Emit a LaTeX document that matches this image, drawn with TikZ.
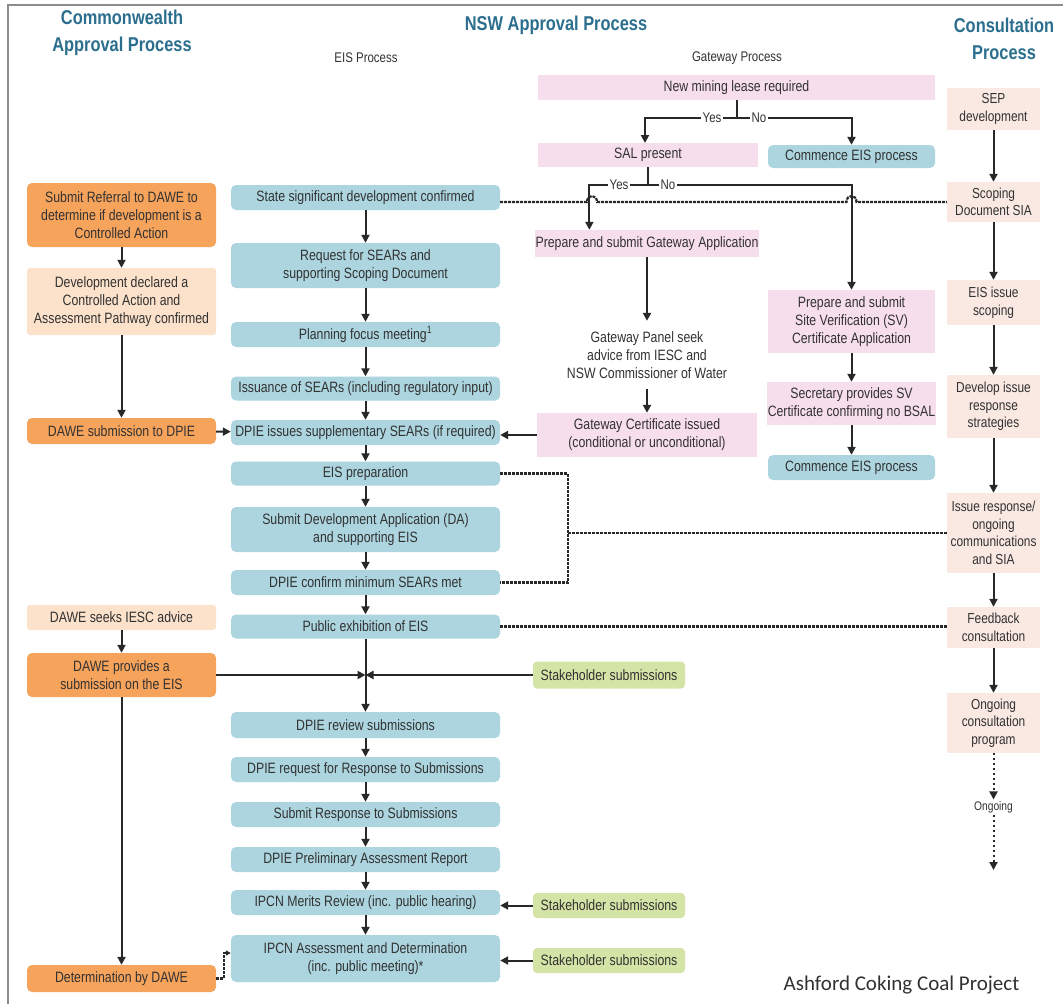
\documentclass[tikz,border=0pt]{standalone}
\usepackage{fontspec}
\setmainfont{Liberation Sans}
\newfontfamily\boxfnt[FakeStretch=0.82]{Liberation Sans}
\newfontfamily\calfnt{Carlito}
\usetikzlibrary{arrows.meta}
\definecolor{cblue}{RGB}{172,213,223}
\definecolor{corange}{RGB}{246,163,92}
\definecolor{cpeach}{RGB}{252,225,203}
\definecolor{cpink}{RGB}{247,222,236}
\definecolor{ccons}{RGB}{250,232,226}
\definecolor{cgreen}{RGB}{212,228,166}
\definecolor{chead}{RGB}{43,110,142}
\definecolor{ctxt}{RGB}{50,50,50}
\definecolor{cline}{RGB}{40,40,40}
\definecolor{cframe}{RGB}{140,140,140}
\tikzset{
  bx/.style={inner sep=1pt, align=center, text=ctxt, font=\boxfnt\fontsize{15}{18}\selectfont},
  bluebx/.style={bx, fill=cblue, rounded corners=5pt},
  orgbx/.style={bx, fill=corange, rounded corners=5pt},
  pchbx/.style={bx, fill=cpeach, rounded corners=3pt},
  pinkbx/.style={bx, fill=cpink},
  conbx/.style={bx, fill=ccons, font=\boxfnt\fontsize{14.5}{17.5}\selectfont},
  grnbx/.style={bx, fill=cgreen, rounded corners=4pt},
  hdr/.style={align=center, text=chead, font=\boxfnt\bfseries\fontsize{20}{27}\selectfont},
  sub/.style={text=ctxt, font=\boxfnt\fontsize{14}{16}\selectfont},
  lbl/.style={fill=white, inner sep=1.5pt, text=ctxt, font=\boxfnt\fontsize{14}{15}\selectfont},
  ln/.style={draw=cline, line width=2pt},
  arr/.style={ln, -{Triangle[length=8pt,width=8pt]}},
  dsh/.style={draw=cline, line width=2.2pt, dash pattern=on 3pt off 1pt},
  dotarr/.style={draw=cline, line width=2pt, dash pattern=on 2pt off 3pt, -{Triangle[length=8pt,width=8pt]}}
}
\begin{document}
\begin{tikzpicture}[x=1pt,y=-1pt]
\useasboundingbox (0,0) rectangle (1063,1004);
\fill[white] (0,0) rectangle (1063,1004);
% frame
\draw[cframe, line width=1.5pt] (8,1004) -- (8,5) -- (1063,5);

% headers
\node[hdr] (hcw) at (122,33) {Commonwealth\\Approval Process};
\node[hdr] (hnsw) at (556,25) {NSW Approval Process};
\node[hdr] (hcon) at (1004,39) {Consultation\\Process};
\node[sub] (heis) at (366,58) {EIS Process};
\node[sub] (hgw) at (737,58) {Gateway Process};

% Commonwealth column
\node[orgbx, minimum width=189pt, minimum height=64pt] (ref) at (121.5,215) {Submit Referral to DAWE to\\determine if development is a\\Controlled Action};
\node[pchbx, minimum width=189pt, minimum height=67pt] (decl) at (121.5,301.5) {Development declared a\\Controlled Action and\\Assessment Pathway confirmed};
\node[orgbx, minimum width=189pt, minimum height=26pt] (dsub) at (121.5,431) {DAWE submission to DPIE};
\node[pchbx, minimum width=189pt, minimum height=25pt] (seek) at (121.5,617.5) {DAWE seeks IESC advice};
\node[orgbx, minimum width=189pt, minimum height=44pt] (prov) at (121.5,675) {DAWE provides a\\submission on the EIS};
\node[orgbx, minimum width=189pt, minimum height=27pt] (det) at (121.5,978.5) {Determination by DAWE};

% EIS column
\node[bluebx, minimum width=269pt, minimum height=25pt] (ssd) at (365.5,197.5) {State significant development confirmed};
\node[bluebx, minimum width=269pt, minimum height=45pt] (req) at (365.5,265.5) {Request for SEARs and\\supporting Scoping Document};
\node[bluebx, minimum width=269pt, minimum height=25pt] (pfm) at (365.5,334.5) {Planning focus meeting\textsuperscript{1}};
\node[bluebx, minimum width=269pt, minimum height=24pt] (iss) at (365.5,388.5) {Issuance of SEARs (including regulatory input)};
\node[bluebx, minimum width=269pt, minimum height=25pt] (sup) at (365.5,432.5) {DPIE issues supplementary SEARs (if required)};
\node[bluebx, minimum width=269pt, minimum height=24pt] (prep) at (365.5,473.5) {EIS preparation};
\node[bluebx, minimum width=269pt, minimum height=45pt] (da) at (365.5,529.5) {Submit Development Application (DA)\\and supporting EIS};
\node[bluebx, minimum width=269pt, minimum height=25pt] (conf) at (365.5,582.5) {DPIE confirm minimum SEARs met};
\node[bluebx, minimum width=269pt, minimum height=24pt] (pub) at (365.5,626.5) {Public exhibition of EIS};
\node[bluebx, minimum width=269pt, minimum height=26pt] (rev) at (365.5,725) {DPIE review submissions};
\node[bluebx, minimum width=269pt, minimum height=25pt] (rfr) at (365.5,769.5) {DPIE request for Response to Submissions};
\node[bluebx, minimum width=269pt, minimum height=25pt] (srs) at (365.5,814.5) {Submit Response to Submissions};
\node[bluebx, minimum width=269pt, minimum height=25pt] (par) at (365.5,859.5) {DPIE Preliminary Assessment Report};
\node[bluebx, minimum width=269pt, minimum height=25pt] (mer) at (365.5,902.5) {IPCN Merits Review (inc. public hearing)};
\node[bluebx, minimum width=269pt, minimum height=47pt] (ipcn) at (365.5,958.5) {IPCN Assessment and Determination\\(inc. public meeting)*};

% Gateway column
\node[pinkbx, minimum width=397pt, minimum height=25pt] (nml) at (736.5,87.5) {New mining lease required};
\node[pinkbx, minimum width=220pt, minimum height=24pt] (sal) at (648,155) {SAL present};
\node[bluebx, minimum width=167pt, minimum height=23pt] (ceisa) at (851.5,156.5) {Commence EIS process};
\node[pinkbx, minimum width=220pt, minimum height=27pt] (pga) at (647,243.5) {Prepare and submit Gateway Application};
\node[bx, minimum width=200pt, minimum height=68pt] (gp) at (647,355) {Gateway Panel seek\\advice from IESC and\\NSW Commissioner of Water};
\node[pinkbx, minimum width=220pt, minimum height=44pt] (gci) at (647,435) {Gateway Certificate issued\\(conditional or unconditional)};
\node[pinkbx, minimum width=167pt, minimum height=63pt] (psv) at (851.5,321.5) {Prepare and submit\\Site Verification (SV)\\Certificate Application};
\node[pinkbx, minimum width=167pt, minimum height=43pt] (sec) at (851.5,403.5) {Secretary provides SV\\Certificate confirming no BSAL};
\node[bluebx, minimum width=167pt, minimum height=25pt] (ceisb) at (851.5,467.5) {Commence EIS process};

% Consultation column
\node[conbx, minimum width=93pt, minimum height=42pt] (sep) at (993.5,109) {SEP\\development};
\node[conbx, minimum width=93pt, minimum height=40pt] (sds) at (993.5,202) {Scoping\\Document SIA};
\node[conbx, minimum width=93pt, minimum height=45pt] (eisi) at (993.5,302.5) {EIS issue\\scoping};
\node[conbx, minimum width=93pt, minimum height=63pt] (dev) at (993.5,406.5) {Develop issue\\response\\strategies};
\node[conbx, minimum width=93pt, minimum height=80pt] (ir) at (993.5,533) {Issue response/\\ongoing\\communications\\and SIA};
\node[conbx, minimum width=93pt, minimum height=41pt] (fb) at (993.5,627.5) {Feedback\\consultation};
\node[conbx, minimum width=93pt, minimum height=60pt] (ocp) at (993.5,723) {Ongoing\\consultation\\program};
\node[lbl, font=\boxfnt\fontsize{12.5}{14}\selectfont] (ong) at (993.5,807) {Ongoing};
\coordinate (oend) at (993.5,870);

% Stakeholder submissions
\node[grnbx, minimum width=152pt, minimum height=27pt] (sha) at (609,675) {Stakeholder submissions};
\node[grnbx, minimum width=152pt, minimum height=25pt] (shb) at (609,905.5) {Stakeholder submissions};
\node[grnbx, minimum width=152pt, minimum height=25pt] (shc) at (609,960.5) {Stakeholder submissions};

% footer
\node[text=ctxt, font=\calfnt\fontsize{21}{25}\selectfont] (ttl) at (901.5,985) {Ashford Coking Coal Project};

% ---- connectors: Commonwealth
\draw[arr] (ref) -- (decl);
\draw[arr] (decl) -- (dsub);
\draw[arr] (dsub) -- (sup);
\draw[arr] (seek) -- (prov);
\draw[arr] (prov) -- (det);
\draw[arr] (prov.east) -- (pub.south |- prov.east);
\draw[arr] (sha.west) -- (pub.south |- sha.west);
\draw[dsh, -{Triangle[length=5pt,width=5pt]}] (det.east) -- (224,978.5) -- (224,953) -- (ipcn.west |- 224,953);

% ---- EIS chain
\draw[arr] (ssd) -- (req);
\draw[arr] (req) -- (pfm);
\draw[arr] (pfm) -- (iss);
\draw[arr] (iss) -- (sup);
\draw[arr] (sup) -- (prep);
\draw[arr] (prep) -- (da);
\draw[arr] (da) -- (conf);
\draw[arr] (conf) -- (pub);
\draw[arr] (pub) -- (rev);
\draw[arr] (rev) -- (rfr);
\draw[arr] (rfr) -- (srs);
\draw[arr] (srs) -- (par);
\draw[arr] (par) -- (mer);
\draw[arr] (mer) -- (ipcn);
\draw[arr] (shb.west) -- (shb.west -| mer.east);
\draw[arr] (shc.west) -- (shc.west -| ipcn.east);

% ---- Gateway
\draw[ln] (nml.south) -- ++(0,18) coordinate (ja);
\draw[arr] (ja) -| (645,143);
\draw[arr] (ja) -| (ceisa.north);
\node[lbl] (ya) at (712,118) {Yes};
\node[lbl] (na) at (759,118) {No};
\draw[ln] (sal.south) -- ++(0,18) coordinate (jb);
\draw[arr] (jb) -| ([xshift=55pt]pga.north west);
\draw[arr] (jb) -| (psv.north);
\node[lbl] (yb) at (619,185) {Yes};
\node[lbl] (nb) at (668,185) {No};
\draw[arr] (pga.south) -- (gp.north);
\draw[arr] (gp.south) -- (gci.north);
\draw[arr] (gci.west) -- (sup.east |- gci.west);
\draw[arr] (psv) -- (sec);
\draw[arr] (sec) -- (ceisb);

% dashed link with hops
\draw[dsh] (ssd.east |- sds.west) -- (587,202) .. controls (587,194) and (597,194) .. (597,202)
  -- (846.5,202) .. controls (846.5,194) and (856.5,194) .. (856.5,202) -- (sds.west);
% dashed bracket
\coordinate (dj) at (568,533);
\draw[dsh] (prep.east) -| (dj) |- (conf.east);
\draw[dsh] (dj) -- (ir.west);
\draw[dsh] (pub.east) -- (pub.east -| fb.west);

% ---- Consultation chain
\draw[arr] (sep) -- (sds);
\draw[arr] (sds) -- (eisi);
\draw[arr] (eisi) -- (dev);
\draw[arr] (dev) -- (ir);
\draw[arr] (ir) -- (fb);
\draw[arr] (fb) -- (ocp);
\draw[dotarr] (ocp.south) -- (ong.north);
\draw[dotarr] (ong.south) -- (oend);
\end{tikzpicture}
\end{document}
